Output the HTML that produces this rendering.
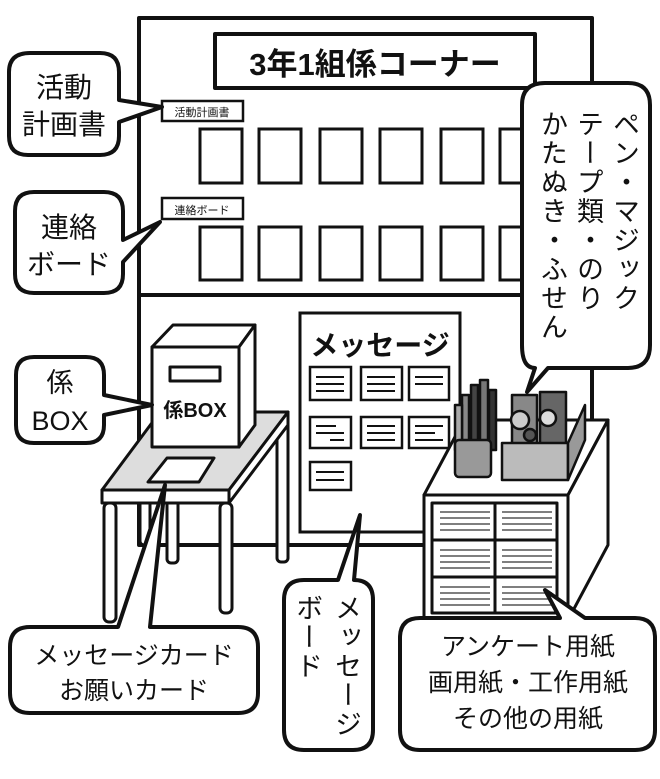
<!DOCTYPE html>
<html><head><meta charset="utf-8"><style>
html,body{margin:0;padding:0;background:#fff}
svg{display:block}
text{font-family:"Liberation Sans","Noto Sans CJK JP",sans-serif;fill:#111}
.v{writing-mode:vertical-rl}
</style></head><body>
<svg width="660" height="779" viewBox="0 0 660 779" xmlns="http://www.w3.org/2000/svg">
<g stroke="#111" stroke-width="4" fill="#fff" stroke-linejoin="round">
<rect x="139" y="18" width="453" height="527"/>
<line x1="139" y1="295" x2="592" y2="295"/>
<rect x="215" y="34" width="320" height="54" stroke-width="4"/>
</g>
<text x="375" y="75" font-size="31" font-weight="bold" text-anchor="middle">3年1組係コーナー</text>
<g stroke="#111" stroke-width="2.5" fill="#fff">
<rect x="162" y="101" width="81" height="20"/>
<rect x="162" y="198" width="81" height="21"/>
</g>
<text x="202" y="116" font-size="11" text-anchor="middle">活動計画書</text>
<text x="202" y="214" font-size="11" text-anchor="middle">連絡ボード</text>
<g stroke="#111" stroke-width="3" fill="#fff">
<rect x="200" y="129" width="42" height="54"/><rect x="259" y="129" width="42" height="54"/><rect x="320" y="129" width="42" height="54"/><rect x="380" y="129" width="42" height="54"/><rect x="441" y="129" width="42" height="54"/><rect x="500" y="129" width="42" height="54"/>
<rect x="200" y="227" width="42" height="53"/><rect x="259" y="227" width="42" height="53"/><rect x="320" y="227" width="42" height="53"/><rect x="380" y="227" width="42" height="53"/><rect x="441" y="227" width="42" height="53"/><rect x="500" y="227" width="42" height="53"/>
</g>
<rect x="300" y="313" width="160" height="219" stroke="#111" stroke-width="3" fill="#fff"/>
<text x="380" y="355" font-size="28" font-weight="bold" text-anchor="middle">メッセージ</text>
<g stroke="#111" stroke-width="2.5" fill="#fff">
<rect x="310" y="367" width="41" height="33"/><rect x="361" y="367" width="41" height="33"/><rect x="409" y="367" width="40" height="33"/>
<rect x="310" y="417" width="41" height="31"/><rect x="361" y="417" width="41" height="31"/><rect x="409" y="417" width="40" height="31"/>
<rect x="310" y="462" width="41" height="28"/>
</g>
<g stroke="#111" stroke-width="2">
<path d="M316 377h28M316 384h28M316 391h28M367 377h28M367 384h28M367 391h28M415 377h28M415 384h28"/>
<path d="M316 426h20M316 433h28M330 440h14M367 426h28M367 433h28M367 440h28M415 426h28M415 433h20M415 440h28"/>
<path d="M316 472h28M316 480h28"/>
</g>
<g stroke="#111" stroke-width="3" stroke-linejoin="round">
<rect x="140" y="495" width="10" height="50" rx="4" fill="#fff"/>
<rect x="167" y="495" width="11" height="68" rx="4" fill="#fff"/>
<rect x="277" y="420" width="11" height="142" rx="4" fill="#fff"/>
<polygon points="102,490 229,490 288,412 160,412" fill="#ddd"/>
<polygon points="102,490 229,490 229,503 102,503" fill="#fff"/>
<polygon points="229,490 288,412 288,425 229,503" fill="#fff"/>
<rect x="104" y="503" width="12" height="119" rx="5" fill="#fff"/>
<rect x="220" y="503" width="12" height="110" rx="5" fill="#fff"/>
<polygon points="148,482 199,482 214,458 167,458" fill="#fff"/>
<polygon points="152,347 173,325 255,325 239,347" fill="#fff"/>
<polygon points="239,347 255,325 255,425 239,447" fill="#fff"/>
<rect x="152" y="347" width="87" height="100" fill="#fff"/>
<rect x="170" y="367" width="50" height="14" fill="#fff"/>
</g>
<text x="195" y="417" font-size="20" font-weight="bold" text-anchor="middle">係BOX</text>
<g stroke="#111" stroke-width="3" stroke-linejoin="round" fill="#fff">
<polygon points="424,495 568,495 608,420 464,420"/>
<polygon points="568,495 608,420 608,545 568,620"/>
<rect x="424" y="495" width="144" height="125"/>
<rect x="432" y="503" width="125" height="110" fill="#fff"/>
<line x1="495" y1="503" x2="495" y2="613"/>
<line x1="432" y1="540" x2="557" y2="540"/><line x1="432" y1="577" x2="557" y2="577"/>
</g>
<g stroke="#555" stroke-width="1.5">
<path d="M440 512h50M440 518h50M440 524h50M440 530h50M502 512h50M502 518h50M502 524h50M502 530h50"/>
<path d="M440 550h50M440 556h50M440 562h50M440 568h50M502 550h50M502 556h50M502 562h50M502 568h50"/>
<path d="M440 587h50M440 593h50M440 599h50M440 605h50M502 587h50M502 593h50M502 599h50M502 605h50"/>
</g>
<g stroke="#111" stroke-width="2.5" stroke-linejoin="round">
<rect x="462" y="395" width="7" height="55" fill="#888"/><rect x="471" y="385" width="7" height="65" fill="#444"/><rect x="480" y="380" width="8" height="70" fill="#777"/><rect x="489" y="390" width="7" height="60" fill="#333"/><rect x="455" y="405" width="7" height="45" fill="#aaa"/>
<rect x="455" y="440" width="36" height="37" rx="4" fill="#999"/>
<rect x="512" y="395" width="25" height="50" fill="#888"/><rect x="540" y="392" width="26" height="52" fill="#666"/>
<circle cx="520" cy="420" r="9" fill="#ccc"/><circle cx="548" cy="418" r="8" fill="#ddd"/><circle cx="530" cy="435" r="6" fill="#555"/>
<rect x="502" y="443" width="66" height="37" fill="#bbb"/>
<polygon points="568,443 585,405 585,440 568,480" fill="#999"/>
</g>
<g stroke="#111" stroke-width="4" fill="#fff" stroke-linejoin="round">
<path d="M30,53 H100 Q119,53 119,72 V100 L162,107 L119,122 V136 Q119,155 100,155 H28 Q9,155 9,136 V72 Q9,53 30,53 Z"/>
<path d="M34,192 H104 Q123,192 123,211 V240 L160,222 L123,262 V274 Q123,293 104,293 H34 Q15,293 15,274 V211 Q15,192 34,192 Z"/>
<path d="M545,83 H628 Q650,83 650,105 V345 Q650,368 628,368 H548 L527,392 L535,368 Q522,368 522,345 V105 Q522,83 545,83 Z"/>
<path d="M30,627 H118 L165,485 L150,627 H238 Q258,627 258,647 V693 Q258,713 238,713 H30 Q10,713 10,693 V647 Q10,627 30,627 Z"/>
<path d="M304,580 H338 L360,515 L354,580 Q373,580 373,600 V730 Q373,750 353,750 H304 Q284,750 284,730 V600 Q284,580 304,580 Z"/>
<path d="M420,618 H560 L545,590 L585,618 H635 Q655,618 655,638 V730 Q655,750 635,750 H420 Q400,750 400,730 V638 Q400,618 420,618 Z"/>
<path d="M34,357 H86 Q104,357 104,375 V395 L152,405 L104,415 V425 Q104,443 86,443 H34 Q16,443 16,425 V375 Q16,357 34,357 Z"/>
</g>
<g font-size="28" text-anchor="middle">
<text x="64" y="97">活動</text><text x="64" y="134">計画書</text>
<text x="69" y="237">連絡</text><text x="69" y="274">ボード</text>
</g>
<g font-size="27">
<text class="v" x="624" y="110" style="letter-spacing:2px">ペン・マジック</text>
<text class="v" x="588" y="110" style="letter-spacing:2px">テープ類・のり</text>
<text class="v" x="552" y="110" style="letter-spacing:2px">かたぬき・ふせん</text>
<text class="v" x="346" y="594" style="letter-spacing:2px">メッセージ</text>
<text class="v" x="307" y="594" style="letter-spacing:2px">ボード</text>
</g>
<g font-size="25" text-anchor="middle">
<text x="134" y="664">メッセージカード</text>
<text x="134" y="699">お願いカード</text>
<text x="528" y="655">アンケート用紙</text>
<text x="528" y="691">画用紙・工作用紙</text>
<text x="528" y="727">その他の用紙</text>
</g>
<text x="60" y="392" font-size="27" text-anchor="middle">係</text>
<text x="60" y="430" font-size="27" text-anchor="middle">BOX</text>
</svg>
</body></html>
